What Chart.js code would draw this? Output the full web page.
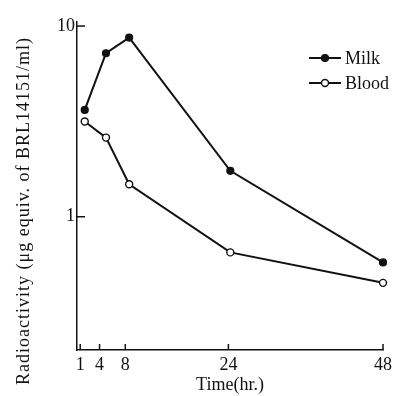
<!DOCTYPE html>
<html>
<head>
<meta charset="utf-8">
<script src="https://cdn.jsdelivr.net/npm/chart.js@4.4.1/dist/chart.umd.min.js"></script>
<style>
  html, body { margin: 0; padding: 0; background: #fff; }
  canvas { display: block; }
</style>
</head>
<body>
<canvas id="chart" width="397" height="396"></canvas>
<script>
/* data */
const times = [1.7, 5, 8.6, 24.3, 48];          // hr (points sit a little right of the ticks in the scan)
const milk = [3.63, 7.2, 8.7, 1.74, 0.576];
const blood = [3.16, 2.6, 1.48, 0.65, 0.45];
const xTicks = [1, 4, 8, 24, 48];
const yTicks = [1, 10];
const seriesNames = ['Milk', 'Blood'];

const FONT = '"Liberation Serif", "DejaVu Serif", serif';
const INK = '#111';

function toPoints(vals) {
  return times.map((t, i) => ({ x: t, y: vals[i] }));
}

/* inward tick marks, y title and legend */
const decorations = {
  id: 'decorations',
  afterDraw(chart) {
    const ctx = chart.ctx;
    const xs = chart.scales.x, ys = chart.scales.y;
    const area = chart.chartArea;
    ctx.save();
    ctx.strokeStyle = INK;
    ctx.lineWidth = 1.5;
    // ticks pointing into the plot
    xTicks.forEach(v => {
      const px = xs.getPixelForValue(v);
      ctx.beginPath();
      ctx.moveTo(px, area.bottom);
      ctx.lineTo(px, area.bottom - 6);
      ctx.stroke();
    });
    yTicks.forEach(v => {
      const py = ys.getPixelForValue(v);
      ctx.beginPath();
      ctx.moveTo(area.left, py);
      ctx.lineTo(area.left + 8, py);
      ctx.stroke();
    });

    // y axis title
    ctx.fillStyle = INK;
    ctx.font = '18px ' + FONT;
    ctx.translate(29, 211);
    ctx.rotate(-Math.PI / 2);
    ctx.textAlign = 'center';
    ctx.textBaseline = 'alphabetic';
    if ('letterSpacing' in ctx) ctx.letterSpacing = '1px';
    ctx.fillText('Radioactivity (\u03bcg equiv. of BRL14151/ml)', 0, 0);
    ctx.restore();

    // legend
    ctx.save();
    ctx.font = '18px ' + FONT;
    ctx.textBaseline = 'middle';
    ctx.textAlign = 'left';
    chart.data.datasets.forEach((ds, i) => {
      const y = 58 + i * 25;
      ctx.strokeStyle = ds.borderColor;
      ctx.lineWidth = ds.borderWidth;
      ctx.beginPath();
      ctx.moveTo(309, y);
      ctx.lineTo(341, y);
      ctx.stroke();
      ctx.beginPath();
      ctx.arc(325, y, ds.pointRadius, 0, Math.PI * 2);
      ctx.fillStyle = ds.pointBackgroundColor;
      ctx.fill();
      ctx.lineWidth = ds.pointBorderWidth;
      ctx.strokeStyle = ds.pointBorderColor;
      ctx.stroke();
      ctx.fillStyle = INK;
      ctx.fillText(ds.label, 345, y + 1);
    });
    ctx.restore();
  }
};

const ctx = document.getElementById('chart').getContext('2d');
const chart = new Chart(ctx, {
  type: 'line',
  data: {
    datasets: [
      {
        label: seriesNames[0],
        data: toPoints(milk),
        borderColor: INK,
        borderWidth: 2,
        pointRadius: 3.5,
        pointBackgroundColor: INK,
        pointBorderColor: INK,
        pointBorderWidth: 1.2,
        tension: 0,
        clip: false
      },
      {
        label: seriesNames[1],
        data: toPoints(blood),
        borderColor: INK,
        borderWidth: 2,
        pointRadius: 3.5,
        pointBackgroundColor: '#fff',
        pointBorderColor: INK,
        pointBorderWidth: 1.4,
        tension: 0,
        clip: false
      }
    ]
  },
  options: {
    responsive: false,
    animation: false,
    layout: { padding: { top: 22, right: 14, left: 0, bottom: 0 } },
    plugins: { legend: { display: false }, tooltip: { enabled: false } },
    scales: {
      x: {
        type: 'linear',
        min: 0.5,
        max: 48,
        afterBuildTicks: s => { s.ticks = xTicks.map(v => ({ value: v })); },
        afterFit: s => { s.height = 46; },
        grid: { display: false, drawTicks: false },
        border: { display: true, color: INK, width: 1.5 },
        ticks: { color: INK, font: { family: FONT, size: 18 }, padding: 4, maxRotation: 0, autoSkip: false },
        title: { display: true, text: 'Time(hr.)', color: INK, font: { family: FONT, size: 18 }, padding: { top: 0, bottom: 0 } }
      },
      y: {
        type: 'logarithmic',
        min: 0.2,
        max: 10.5,
        afterBuildTicks: s => { s.ticks = yTicks.map(v => ({ value: v })); },
        afterFit: s => { s.width = 77; },
        grid: { display: false, drawTicks: false },
        border: { display: true, color: INK, width: 1.5 },
        ticks: { color: INK, font: { family: FONT, size: 18 }, padding: 2, callback: v => String(v) }
      }
    }
  },
  plugins: [decorations]
});
</script>
</body>
</html>
